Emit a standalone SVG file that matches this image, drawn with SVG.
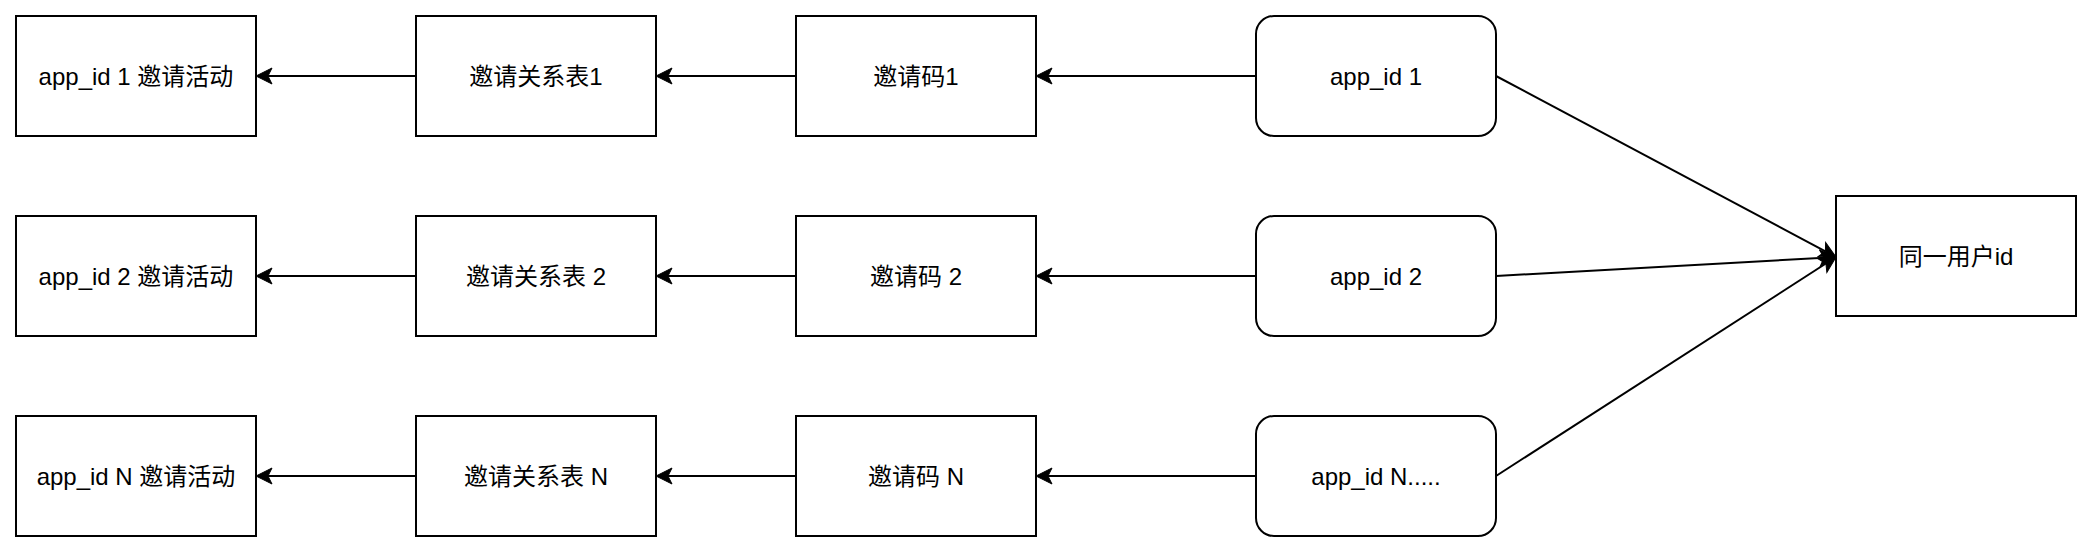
<svg xmlns="http://www.w3.org/2000/svg" width="2094" height="554" viewBox="0 0 2094 554">
<style>
.box{fill:#ffffff;stroke:#000000;stroke-width:2}
.lbl{font-family:"Liberation Sans","Noto Sans CJK SC",sans-serif;font-size:24px;fill:#000000;text-anchor:middle;dominant-baseline:central}
.edge{fill:none;stroke:#000000;stroke-width:2}
</style>
<defs>
<marker id="arr" viewBox="0 0 20 20" markerWidth="20" markerHeight="20" refX="5" refY="10" orient="auto" markerUnits="userSpaceOnUse">
<path d="M17,10 L1,2 L5,10 L1,18 Z" fill="#000000" stroke="#000000" stroke-width="1"/>
</marker>
</defs>
<rect width="2094" height="554" fill="#ffffff"/>
<g id="connectors">
<line class="edge" x1="1256" y1="76" x2="1048" y2="76" marker-end="url(#arr)"/>
<line class="edge" x1="796" y1="76" x2="668" y2="76" marker-end="url(#arr)"/>
<line class="edge" x1="416" y1="76" x2="268" y2="76" marker-end="url(#arr)"/>
<line class="edge" x1="1256" y1="276" x2="1048" y2="276" marker-end="url(#arr)"/>
<line class="edge" x1="796" y1="276" x2="668" y2="276" marker-end="url(#arr)"/>
<line class="edge" x1="416" y1="276" x2="268" y2="276" marker-end="url(#arr)"/>
<line class="edge" x1="1256" y1="476" x2="1048" y2="476" marker-end="url(#arr)"/>
<line class="edge" x1="796" y1="476" x2="668" y2="476" marker-end="url(#arr)"/>
<line class="edge" x1="416" y1="476" x2="268" y2="476" marker-end="url(#arr)"/>
<line class="edge" x1="1496" y1="76" x2="1825.4" y2="251.4" marker-end="url(#arr)"/>
<line class="edge" x1="1496" y1="276" x2="1824" y2="257.7" marker-end="url(#arr)"/>
<line class="edge" x1="1496" y1="476" x2="1825.9" y2="263.5" marker-end="url(#arr)"/>
</g>
<g id="act1"><rect class="box" x="16" y="16" width="240" height="120"/><text class="lbl" x="136" y="76">app_id 1 邀请活动</text></g>
<g id="rel1"><rect class="box" x="416" y="16" width="240" height="120"/><text class="lbl" x="536" y="76">邀请关系表1</text></g>
<g id="code1"><rect class="box" x="796" y="16" width="240" height="120"/><text class="lbl" x="916" y="76">邀请码1</text></g>
<g id="app1"><rect class="box" x="1256" y="16" width="240" height="120" rx="18" ry="18"/><text class="lbl" x="1376" y="76">app_id 1</text></g>
<g id="act2"><rect class="box" x="16" y="216" width="240" height="120"/><text class="lbl" x="136" y="276">app_id 2 邀请活动</text></g>
<g id="rel2"><rect class="box" x="416" y="216" width="240" height="120"/><text class="lbl" x="536" y="276">邀请关系表 2</text></g>
<g id="code2"><rect class="box" x="796" y="216" width="240" height="120"/><text class="lbl" x="916" y="276">邀请码 2</text></g>
<g id="app2"><rect class="box" x="1256" y="216" width="240" height="120" rx="18" ry="18"/><text class="lbl" x="1376" y="276">app_id 2</text></g>
<g id="actN"><rect class="box" x="16" y="416" width="240" height="120"/><text class="lbl" x="136" y="476">app_id N 邀请活动</text></g>
<g id="relN"><rect class="box" x="416" y="416" width="240" height="120"/><text class="lbl" x="536" y="476">邀请关系表 N</text></g>
<g id="codeN"><rect class="box" x="796" y="416" width="240" height="120"/><text class="lbl" x="916" y="476">邀请码 N</text></g>
<g id="appN"><rect class="box" x="1256" y="416" width="240" height="120" rx="18" ry="18"/><text class="lbl" x="1376" y="476">app_id N.....</text></g>
<g id="user"><rect class="box" x="1836" y="196" width="240" height="120"/><text class="lbl" x="1956" y="256">同一用户id</text></g>
</svg>
